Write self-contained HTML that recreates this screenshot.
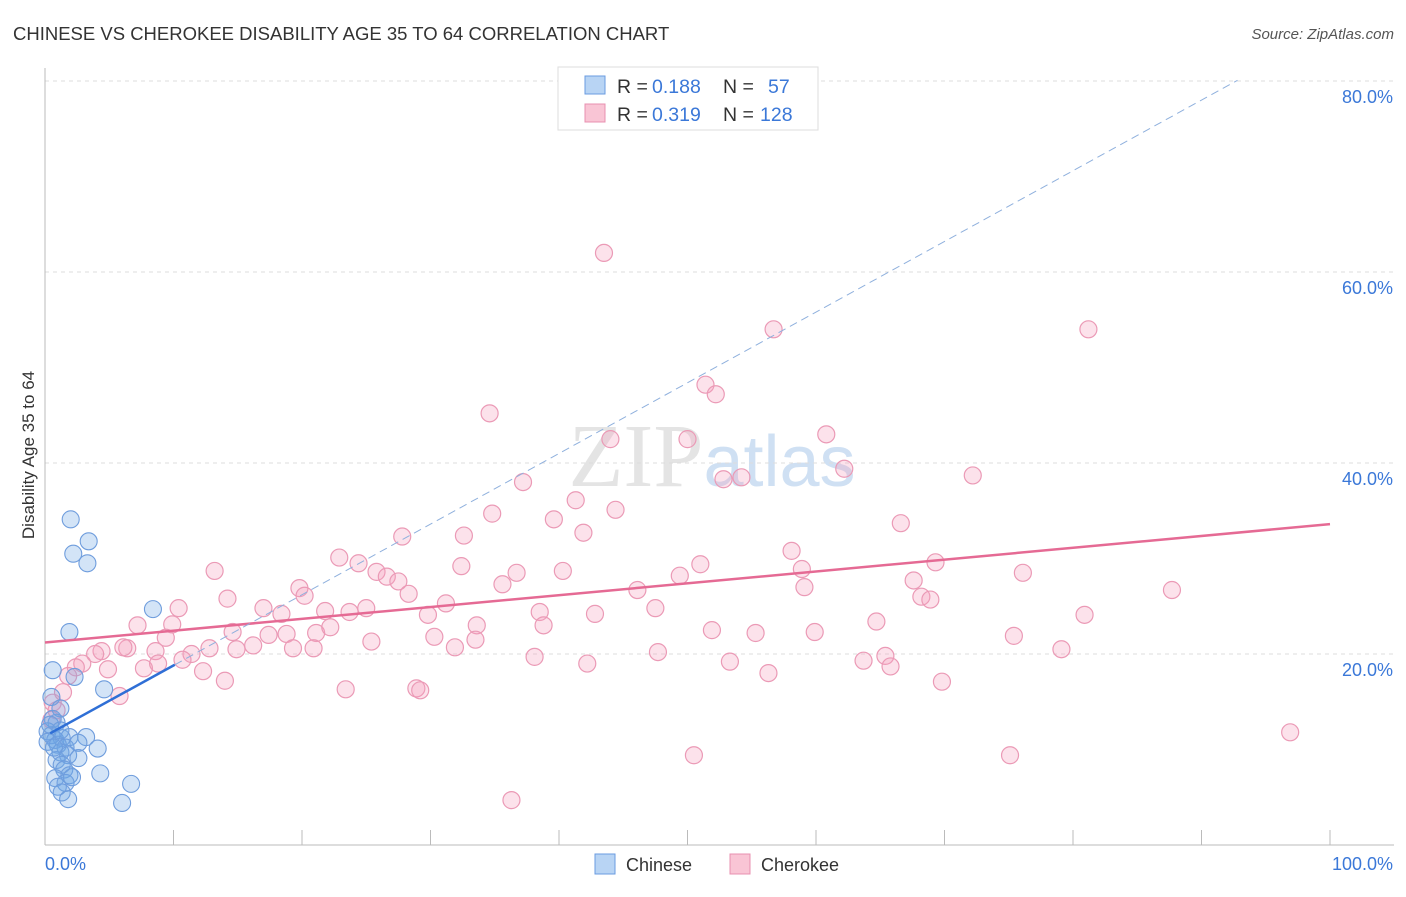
<!DOCTYPE html>
<html><head><meta charset="utf-8"><style>
body{margin:0;background:#fff;font-family:"Liberation Sans",sans-serif}
</style></head><body>
<svg id="chart" width="1406" height="892" xmlns="http://www.w3.org/2000/svg" font-family="Liberation Sans, sans-serif">
<text x="13" y="40" font-size="18.5" fill="#333">CHINESE VS CHEROKEE DISABILITY AGE 35 TO 64 CORRELATION CHART</text>
<text x="1394" y="39" font-size="15" fill="#555" text-anchor="end" font-style="italic">Source: ZipAtlas.com</text>
<text x="712" y="486" font-size="90" fill="#e4e4e4" text-anchor="middle" font-family="Liberation Serif, serif">ZIP<tspan fill="#cfe0f3" font-family="Liberation Sans, sans-serif" font-size="72">atlas</tspan></text>
<text transform="translate(34,455) rotate(-90)" font-size="17" fill="#333" text-anchor="middle">Disability Age 35 to 64</text>
<g id="grid"></g><g id="pink"></g><g id="blue"></g><g id="lines"></g>
<g>
<rect x="558" y="67" width="260" height="63" fill="#fff" stroke="#ddd"/>
<rect x="585" y="76" width="20" height="18" fill="#b8d4f4" stroke="#6a9be0"/>
<rect x="585" y="104" width="20" height="18" fill="#f9c5d5" stroke="#e890b0"/>
<text x="617" y="93" font-size="19.5" fill="#333">R =</text>
<text x="652" y="93" font-size="19.5" fill="#3b78d8">0.188</text>
<text x="723" y="93" font-size="19.5" fill="#333">N =</text>
<text x="768" y="93" font-size="19.5" fill="#3b78d8">57</text>
<text x="617" y="121" font-size="19.5" fill="#333">R =</text>
<text x="652" y="121" font-size="19.5" fill="#3b78d8">0.319</text>
<text x="723" y="121" font-size="19.5" fill="#333">N =</text>
<text x="760" y="121" font-size="19.5" fill="#3b78d8">128</text>
</g>
<g>
<rect x="595" y="854" width="20" height="20" fill="#b8d4f4" stroke="#6a9be0"/>
<text x="626" y="871" font-size="18" fill="#333">Chinese</text>
<rect x="730" y="854" width="20" height="20" fill="#f9c5d5" stroke="#e890b0"/>
<text x="761" y="871" font-size="18" fill="#333">Cherokee</text>
</g>
</svg>
<script>
const yTicks=[20,40,60,80];
const yTickLabels=["20.0%","40.0%","60.0%","80.0%"];
const xTickLabels=["0.0%","100.0%"];
const blueX=[2.0,3.4,2.2,3.3,8.4,1.9,0.6,2.3,4.6,0.5,1.2,0.6,0.9,0.2,0.5,0.8,1.3,1.9,3.2,0.2,1.0,1.6,2.6,4.1,1.2,1.8,0.9,2.6,1.3,1.5,0.8,1.9,4.3,1.6,1.0,1.3,1.8,6.7,6.0,2.1,0.4,0.7,1.2];
const blueY=[34.1,31.8,30.5,29.5,24.7,22.3,18.3,17.6,16.3,15.5,14.3,13.2,12.8,11.9,11.5,11.0,11.2,11.3,11.3,10.8,10.5,10.2,10.7,10.1,9.7,9.4,8.9,9.1,8.4,7.9,7.0,7.3,7.5,6.5,6.1,5.5,4.8,6.4,4.4,7.1,12.6,10.2,12.0];
const pinkX=[43.5,56.7,81.2,34.6,51.4,52.2,44.0,50.0,60.8,52.8,54.2,62.2,72.2,37.2,41.3,44.4,34.8,39.6,66.6,27.8,32.6,41.9,58.1,22.9,24.4,32.4,51.0,69.3,13.2,25.8,26.6,27.5,36.7,40.3,49.4,58.9,76.1,19.8,20.2,28.3,35.6,59.1,46.1,67.6,87.7,68.2,68.9,14.2,17.0,18.4,10.4,21.8,23.7,25.0,31.2,38.5,42.8,47.5,80.9,64.7,9.9,7.2,29.8,33.6,38.8,14.6,17.4,18.8,21.1,22.2,51.9,55.3,59.9,75.4,9.4,12.8,25.4,30.3,33.5,31.9,4.4,6.4,8.6,6.1,11.4,14.9,16.2,19.3,20.9,47.7,79.1,10.7,3.9,2.9,2.4,4.9,7.7,8.8,12.3,38.1,42.2,53.3,56.3,63.7,65.4,65.8,1.8,14.0,23.4,28.9,29.2,5.8,69.8,0.6,0.9,96.9,50.5,75.1,36.3,1.4,0.5];
const pinkY=[62.0,54.0,54.0,45.2,48.2,47.2,42.5,42.5,43.0,38.3,38.5,39.4,38.7,38.0,36.1,35.1,34.7,34.1,33.7,32.3,32.4,32.7,30.8,30.1,29.5,29.2,29.4,29.6,28.7,28.6,28.1,27.6,28.5,28.7,28.2,28.9,28.5,26.9,26.1,26.3,27.3,27.0,26.7,27.7,26.7,26.0,25.7,25.8,24.8,24.2,24.8,24.5,24.4,24.8,25.3,24.4,24.2,24.8,24.1,23.4,23.1,23.0,24.1,23.0,23.0,22.3,22.0,22.1,22.2,22.8,22.5,22.2,22.3,21.9,21.7,20.6,21.3,21.8,21.5,20.7,20.3,20.6,20.3,20.7,20.0,20.5,20.9,20.6,20.6,20.2,20.5,19.4,20.0,19.0,18.6,18.4,18.5,19.0,18.2,19.7,19.0,19.2,18.0,19.3,19.8,18.7,17.7,17.2,16.3,16.4,16.2,15.6,17.1,14.9,14.1,11.8,9.4,9.4,4.7,16.0,13.1];
const pinkTrend=[21.2,33.6];
const blueTrend={intercept:11.4,slope:0.74,solidEnd:10.1,dashEnd:92.8};
const NS="http://www.w3.org/2000/svg";
const sx=v=>45+v*12.85, sy=v=>845-v*9.55;
function mk(tag,attrs,parent){const e=document.createElementNS(NS,tag);for(const k in attrs)e.setAttribute(k,attrs[k]);parent.appendChild(e);return e;}
const grid=document.getElementById('grid');
yTicks.forEach((t,i)=>{
 const l=mk('line',{x1:45,x2:1394,y1:sy(t),y2:sy(t),stroke:'#ddd','stroke-dasharray':'4,4'},grid);
 
 
 const tx=mk('text',{x:1393,y:sy(t)+22,'font-size':18,fill:'#3b78d8','text-anchor':'end'},grid);tx.textContent=yTickLabels[i];
 
 
});
const ax=mk('line',{x1:45,x2:45,y1:68,y2:845,stroke:'#bbb'},grid);


const bx=mk('line',{x1:45,x2:1394,y1:845,y2:845,stroke:'#bbb'},grid);


for(let i=1;i<=10;i++){const t=mk('line',{x1:sx(i*10),x2:sx(i*10),y1:830,y2:845,stroke:'#bbb'},grid);
 
 }
const x0=mk('text',{x:45,y:870,'font-size':18,fill:'#3b78d8'},grid);x0.textContent=xTickLabels[0];


const x1=mk('text',{x:1393,y:870,'font-size':18,fill:'#3b78d8','text-anchor':'end'},grid);x1.textContent=xTickLabels[1];


const pg=document.getElementById('pink');
pinkX.forEach((x,i)=>{const c=mk('circle',{cx:sx(x),cy:sy(pinkY[i]),r:8.5,fill:'rgba(244,160,188,0.3)',stroke:'#eb9ab6','stroke-width':1.2},pg);
 
 });
const bg=document.getElementById('blue');
blueX.forEach((x,i)=>{const c=mk('circle',{cx:sx(x),cy:sy(blueY[i]),r:8.5,fill:'rgba(110,165,230,0.3)',stroke:'#6f9ddd','stroke-width':1.1},bg);
 
 });
const lg=document.getElementById('lines');
const pl=mk('line',{x1:sx(0),y1:sy(pinkTrend[0]),x2:sx(100),y2:sy(pinkTrend[1]),stroke:'#e56a94','stroke-width':2.5},lg);


const bf=v=>blueTrend.intercept+blueTrend.slope*v;
const dl=mk('line',{x1:sx(blueTrend.solidEnd),y1:sy(bf(blueTrend.solidEnd)),x2:sx(blueTrend.dashEnd),y2:sy(bf(blueTrend.dashEnd)),stroke:'#8fb0dd','stroke-width':1,'stroke-dasharray':'8,5'},lg);


const bl=mk('line',{x1:sx(0.4),y1:sy(bf(0.4)),x2:sx(blueTrend.solidEnd),y2:sy(bf(blueTrend.solidEnd)),stroke:'#2f6fd6','stroke-width':2.5},lg);


</script>
</body></html>
